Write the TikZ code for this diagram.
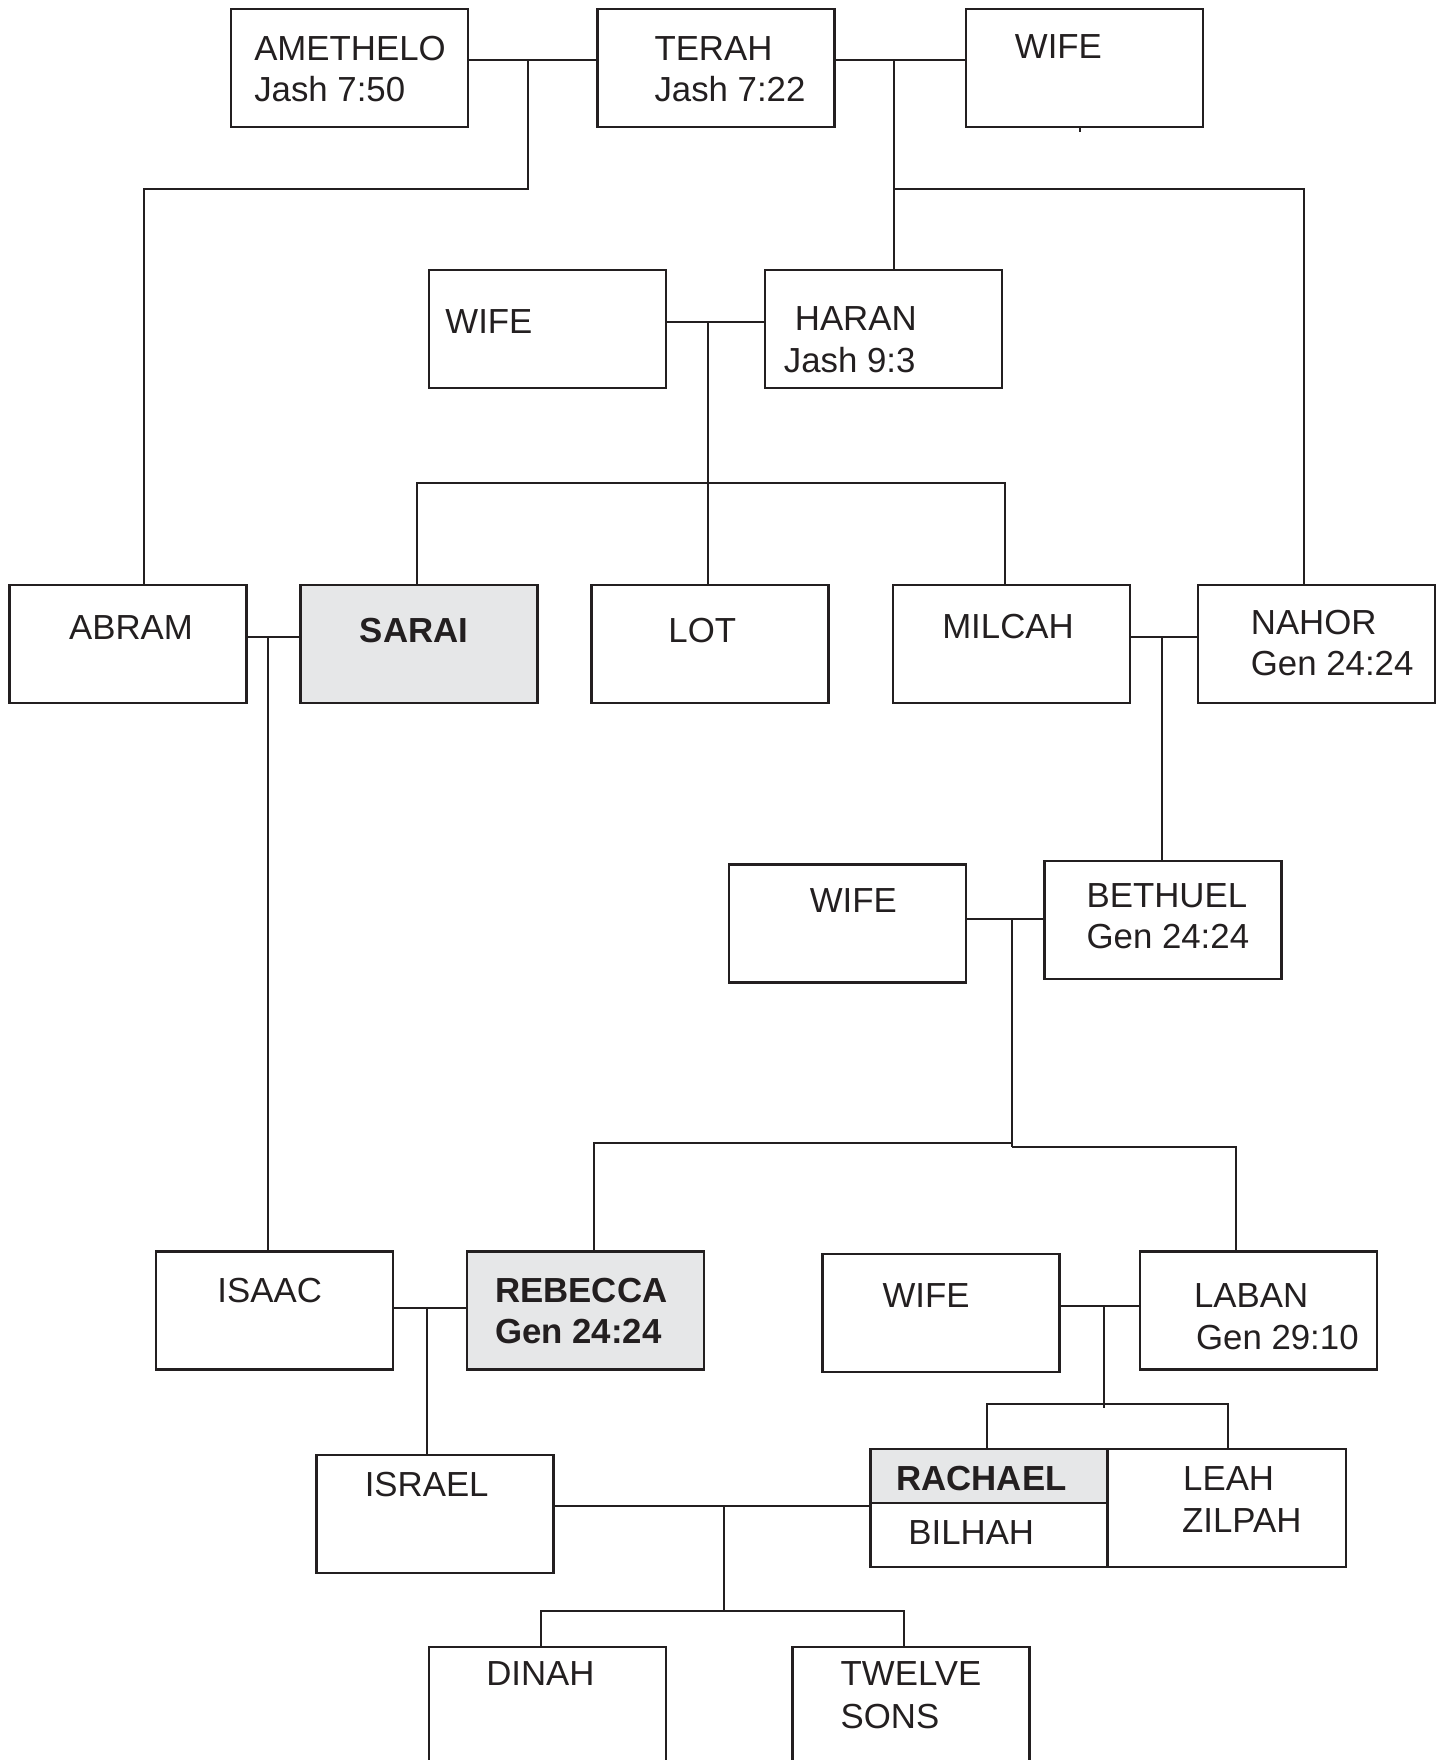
\documentclass[tikz,border=0pt]{standalone}
\usepackage{fontspec}
\setmainfont{Liberation Sans}
\definecolor{shade}{HTML}{E6E7E8}
\definecolor{ink}{HTML}{231F20}
\begin{document}
\begin{tikzpicture}[x=0.4978pt,y=-0.5pt,
 box/.style={draw=ink, line width=1.2pt, minimum width=118.5pt, minimum height=59pt, inner sep=0pt, outer sep=0pt},
 lbl/.style={anchor=base west, inner sep=0pt, text=ink, font=\fontsize{17.4}{20}\selectfont},
 blbl/.style={lbl, font=\fontsize{17.4}{20}\selectfont\bfseries},
 con/.style={line width=1pt, draw=ink}]
\useasboundingbox (0,0) rectangle (1451.6,1760);
% boxes
\node[box] (amet) at (351,68) {};
\node[box] (terah) at (719,68) {};
\node[box] (wife1) at (1089.5,68) {};
\node[box] (wife2) at (550,329) {};
\node[box] (haran) at (887.5,329) {};
\node[box] (abram) at (128.5,644) {};
\node[box, fill=shade] (sarai) at (421,644) {};
\node[box] (lot) at (713,644) {};
\node[box] (milcah) at (1016,644) {};
\node[box] (nahor) at (1322,644) {};
\node[box] (wife3) at (851,923.5) {};
\node[box] (bethuel) at (1168,920) {};
\node[box] (isaac) at (276,1310.5) {};
\node[box, fill=shade] (rebecca) at (588,1310.5) {};
\node[box] (wife4) at (945,1313) {};
\node[box] (laban) at (1264,1310.5) {};
\node[box] (israel) at (437,1514) {};
\node[box, fill=shade, minimum height=27pt] (rachael) at (993.5,1476) {};
\node[box, minimum height=32pt] (bilhah) at (993.5,1535) {};
\node[box, minimum width=119.5pt] (leah) at (1232,1508) {};
\node[box] (dinah) at (550,1706) {};
\node[box] (twelve) at (915,1706) {};
% labels
\node[lbl] (t1a) at (255,61) {AMETHELO};
\node[lbl] (t1b) at (255,102) {Jash 7:50};
\node[lbl] (t2a) at (657,61) {TERAH};
\node[lbl] (t2b) at (657,102) {Jash 7:22};
\node[lbl] (t3) at (1019,59) {WIFE};
\node[lbl] (t4) at (447,333) {WIFE};
\node[lbl] (t5a) at (798,330) {HARAN};
\node[lbl] (t5b) at (787,372) {Jash 9:3};
\node[lbl] (t6) at (69,639) {ABRAM};
\node[blbl] (t7) at (361,642) {SARAI};
\node[lbl] (t8) at (671,642) {LOT};
\node[lbl] (t9) at (946,638) {MILCAH};
\node[lbl] (t10a) at (1256,634) {NAHOR};
\node[lbl] (t10b) at (1256,675) {Gen 24:24};
\node[lbl] (t11) at (813,912) {WIFE};
\node[lbl] (t12a) at (1091,907) {BETHUEL};
\node[lbl] (t12b) at (1091,948) {Gen 24:24};
\node[lbl] (t13) at (218,1302) {ISAAC};
\node[blbl] (t14a) at (497,1302) {REBECCA};
\node[blbl] (t14b) at (497,1343) {Gen 24:24};
\node[lbl] (t15) at (886,1307) {WIFE};
\node[lbl] (t16a) at (1199,1307) {LABAN};
\node[lbl] (t16b) at (1201,1349) {Gen 29:10};
\node[lbl] (t17) at (366,1496) {ISRAEL};
\node[blbl] (t18) at (900,1490) {RACHAEL};
\node[lbl] (t19) at (912,1544) {BILHAH};
\node[lbl] (t20a) at (1188,1490) {LEAH};
\node[lbl] (t20b) at (1187,1532) {ZILPAH};
\node[lbl] (t21) at (488,1685) {DINAH};
\node[lbl] (t22a) at (844,1685) {TWELVE};
\node[lbl] (t22b) at (844,1728) {SONS};
% connectors
\coordinate (jA) at (530,60);
\coordinate (cA) at (145,189);
\draw[con] (amet.east |- jA) -- (terah.west |- jA);
\draw[con] (jA) -- (jA |- cA) -- (cA) -- (cA |- abram.north);
\coordinate (jB) at (898,60);
\coordinate (cB) at (1310,189);
\draw[con] (terah.east |- jB) -- (wife1.west |- jB);
\draw[con] (jB) -- (jB |- haran.north);
\draw[con] (jB |- cB) -- (cB) -- (cB |- nahor.north);
\coordinate (tick) at (1085,132);
\draw[con] (wife1.south -| tick) -- (tick);
\coordinate (jC) at (711,322);
\coordinate (cC1) at (419,483);
\coordinate (cC2) at (1009,483);
\draw[con] (wife2.east |- jC) -- (haran.west |- jC);
\draw[con] (jC) -- (jC |- lot.north);
\draw[con] (cC1 |- sarai.north) -- (cC1) -- (cC2) -- (cC2 |- milcah.north);
\coordinate (jD) at (269,637);
\draw[con] (abram.east |- jD) -- (sarai.west |- jD);
\draw[con] (jD) -- (jD |- isaac.north);
\coordinate (jE) at (1167,637);
\draw[con] (milcah.east |- jE) -- (nahor.west |- jE);
\draw[con] (jE) -- (jE |- bethuel.north);
\coordinate (jF) at (1016,919);
\coordinate (cF1) at (597,1143);
\coordinate (cF2) at (1016,1147);
\coordinate (cF3) at (1241,1147);
\draw[con] (wife3.east |- jF) -- (bethuel.west |- jF);
\draw[con] (jF) -- (cF2);
\draw[con] (rebecca.north -| cF1) -- (cF1) -- (cF1 -| jF);
\draw[con] (cF2) -- (cF3) -- (cF3 |- laban.north);
\coordinate (jG) at (429,1308);
\draw[con] (isaac.east |- jG) -- (rebecca.west |- jG);
\draw[con] (jG) -- (jG |- israel.north);
\coordinate (jH) at (1109,1306);
\coordinate (cH0) at (1109,1408);
\coordinate (cH1) at (991,1404);
\coordinate (cH2) at (1233,1404);
\draw[con] (wife4.east |- jH) -- (laban.west |- jH);
\draw[con] (jH) -- (cH0);
\draw[con] (cH1 |- rachael.north) -- (cH1) -- (cH2) -- (cH2 |- leah.north);
\coordinate (jI) at (727,1506);
\coordinate (cI1) at (543,1611);
\coordinate (cI2) at (908,1611);
\draw[con] (israel.east |- jI) -- (rachael.west |- jI);
\draw[con] (jI) -- (jI |- cI1);
\draw[con] (cI1 |- dinah.north) -- (cI1) -- (cI2) -- (cI2 |- twelve.north);
\end{tikzpicture}
\end{document}
